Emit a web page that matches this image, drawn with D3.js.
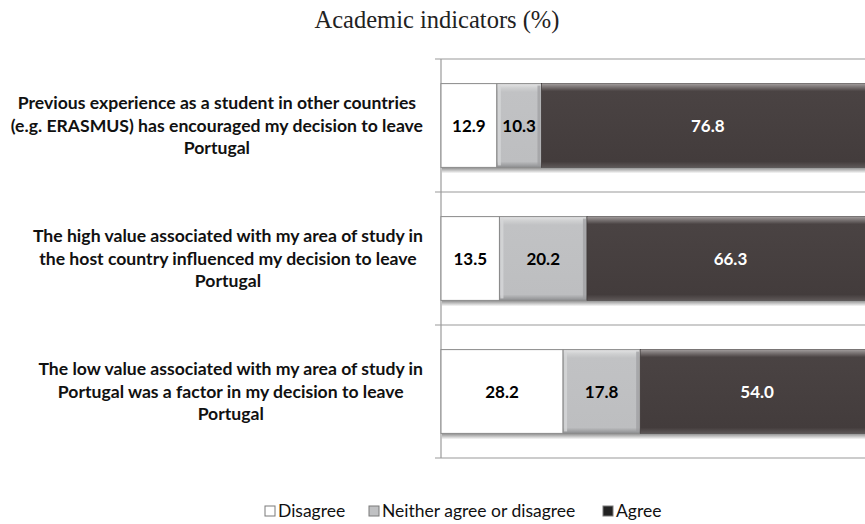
<!DOCTYPE html>
<html>
<head>
<meta charset="utf-8">
<script src="https://cdn.jsdelivr.net/npm/d3@7"></script>
<style>
  html, body { margin: 0; padding: 0; background: #fff; }
  svg { display: block; }
</style>
</head>
<body>
<div id="chart"></div>
<script>
// Academic indicators — stacked 100% horizontal bars

var categories = [
  ['Previous experience as a student in other countries', '(e.g. ERASMUS) has encouraged my decision to leave', 'Portugal'],
  ['The high value associated with my area of study in', 'the host country influenced my decision to leave', 'Portugal'],
  ['The low value associated with my area of study in', 'Portugal was a factor in my decision to leave', 'Portugal']
];
var seriesNames = ['Disagree', 'Neither agree or disagree', 'Agree'];
var disagree = [12.9, 13.5, 28.2];
var neither = [10.3, 20.2, 17.8];
var agree = [76.8, 66.3, 54.0];

var width = 865, height = 524;
var plot = { left: 441, top: 59, bottom: 458, right: 874 };

var svg = d3.select('#chart').append('svg')
  .attr('width', width)
  .attr('height', height);

var defs = svg.append('defs');

function vGradient(id, stops) {
  var g = defs.append('linearGradient').attr('id', id)
    .attr('x1', 0).attr('y1', 0).attr('x2', 0).attr('y2', 1);
  stops.forEach(function(s) {
    g.append('stop').attr('offset', s[0]).attr('stop-color', s[1]);
  });
}
vGradient('g-white', [[0, '#ffffff'], [1, '#ffffff']]);
vGradient('g-grey', [[0, '#e4e4e5'], [0.05, '#cfd0d1'], [0.1, '#c1c2c4'], [0.93, '#bdbec0'], [1, '#8e8f91']]);
vGradient('g-dark', [[0, '#a29d9d'], [0.04, '#7a7474'], [0.09, '#4a4343'], [0.93, '#433c3c'], [1, '#5e5858']]);
vGradient('g-shadow', [[0, '#8a8a8a'], [0.5, '#c4c4c4'], [1, '#ffffff']]);

var fills = ['url(#g-white)', 'url(#g-grey)', 'url(#g-dark)'];
var labelColors = ['#000', '#000', '#fff'];
var legendFills = ['#ffffff', '#c0c1c3', '#222'];
var font = "Lato, 'Open Sans', sans-serif";

var x = d3.scaleLinear().domain([0, 100]).range([plot.left, plot.right]);
var y = d3.scaleBand()
  .domain(d3.range(categories.length))
  .range([plot.top, plot.bottom])
  .paddingInner(0.37)
  .paddingOuter(0.185);

// Title
svg.append('text')
  .attr('x', 437)
  .attr('y', 28)
  .attr('text-anchor', 'middle')
  .attr('font-family', "'Liberation Serif', serif")
  .attr('font-size', '24.5px')
  .attr('fill', '#222')
  .text('Academic indicators (%)');

// Category separators
var step = y.step();
var grid = svg.append('g');
d3.range(categories.length + 1).forEach(function(i) {
  var gy = plot.top + i * step;
  grid.append('line')
    .attr('x1', 435).attr('x2', width)
    .attr('y1', gy).attr('y2', gy)
    .attr('stroke', '#9a9a9a')
    .attr('stroke-width', 1.2);
});
grid.append('line')
  .attr('x1', plot.left).attr('x2', plot.left)
  .attr('y1', plot.top).attr('y2', plot.bottom)
  .attr('stroke', '#9a9a9a')
  .attr('stroke-width', 1.2);

// Stack
var rows = categories.map(function(c, i) {
  return [disagree[i], neither[i], agree[i]];
});

var bars = svg.append('g');
rows.forEach(function(vals, i) {
  var by = y(i), bh = y.bandwidth();
  // shadow under bar
  bars.append('rect')
    .attr('x', plot.left + 1)
    .attr('y', by + bh)
    .attr('width', x(100) - plot.left)
    .attr('height', 6)
    .attr('fill', 'url(#g-shadow)');
  var acc = 0;
  vals.forEach(function(v, k) {
    var x0 = x(acc), x1 = x(acc + v);
    bars.append('rect')
      .attr('x', x0)
      .attr('y', by)
      .attr('width', x1 - x0)
      .attr('height', bh)
      .attr('fill', fills[k])
      .attr('stroke', k === 2 ? '#3a3434' : '#8a8a8a')
      .attr('stroke-width', k === 2 ? 0.6 : 1);
    if (k === 1) {
      // bevel edges
      bars.append('rect')
        .attr('x', x1 - 4).attr('y', by + 2)
        .attr('width', 3).attr('height', bh - 4)
        .attr('fill', '#9c9d9f').attr('opacity', 0.7);
      bars.append('rect')
        .attr('x', x0 + 1).attr('y', by + 2)
        .attr('width', 3).attr('height', bh - 4)
        .attr('fill', '#d6d7d8').attr('opacity', 0.8);
    }
    bars.append('text')
      .attr('x', (x0 + x1) / 2)
      .attr('y', by + bh / 2)
      .attr('dy', '0.36em')
      .attr('text-anchor', 'middle')
      .attr('font-family', font)
      .attr('font-weight', 'bold')
      .attr('font-size', '17px')
      .attr('fill', labelColors[k])
      .text(v.toFixed(1));
    acc += v;
  });
});

// Category labels: lines centred in a block whose right edge sits near the axis
var labelRight = 423, lineGap = 22.5;
var labels = svg.append('g');
categories.forEach(function(lines, i) {
  var cy = y(i) + y.bandwidth() / 2;
  var t = labels.append('text')
    .attr('text-anchor', 'middle')
    .attr('font-family', font)
    .attr('font-weight', 'bold')
    .attr('font-size', '17.6px')
    .attr('fill', '#111');
  var spans = lines.map(function(line, j) {
    return t.append('tspan')
      .attr('y', cy + (j - (lines.length - 1) / 2) * lineGap)
      .attr('dy', '0.36em')
      .text(line);
  });
  var maxW = d3.max(spans, function(s) { return s.node().getComputedTextLength(); });
  spans.forEach(function(s) { s.attr('x', labelRight - maxW / 2); });
});

// Legend
var legendX = [265, 369, 603];
var legend = svg.append('g');
seriesNames.forEach(function(name, k) {
  legend.append('rect')
    .attr('x', legendX[k]).attr('y', 506)
    .attr('width', 10).attr('height', 10)
    .attr('fill', legendFills[k])
    .attr('stroke', '#7a7a7a')
    .attr('stroke-width', 1);
  legend.append('text')
    .attr('x', legendX[k] + 13)
    .attr('y', 511)
    .attr('dy', '0.36em')
    .attr('font-family', font)
    .attr('font-size', '17.5px')
    .attr('fill', '#111')
    .text(name);
});
</script>
</body>
</html>
